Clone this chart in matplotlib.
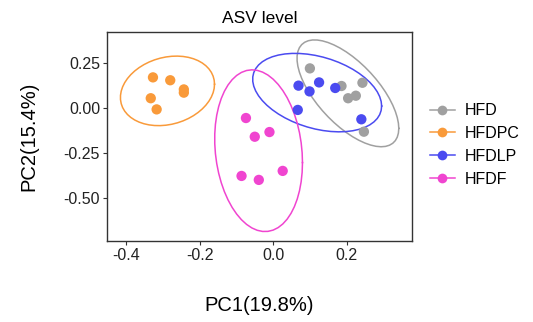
import numpy as np
import matplotlib
matplotlib.use("Agg")
import matplotlib.pyplot as plt
from matplotlib.lines import Line2D

plt.rcParams['font.family'] = ['Liberation Sans', 'DejaVu Sans']

groups = ["HFD", "HFDPC", "HFDLP", "HFDF"]
colors = ["#A0A0A0", "#F99A3A", "#4B4BF0", "#F045D0"]

hfd_x = [0.100, 0.186, 0.243, 0.204, 0.225, 0.247]
hfd_y = [0.222, 0.124, 0.142, 0.056, 0.070, -0.130]
hfdpc_x = [-0.327, -0.280, -0.243, -0.243, -0.333, -0.317]
hfdpc_y = [0.172, 0.156, 0.105, 0.087, 0.056, -0.006]
hfdlp_x = [0.069, 0.099, 0.125, 0.169, 0.067, 0.240]
hfdlp_y = [0.126, 0.094, 0.144, 0.113, -0.009, -0.061]
hfdf_x = [-0.074, -0.050, -0.010, -0.086, -0.039, 0.026]
hfdf_y = [-0.054, -0.158, -0.132, -0.376, -0.398, -0.348]

data = {
    "HFD": (hfd_x, hfd_y),
    "HFDPC": (hfdpc_x, hfdpc_y),
    "HFDLP": (hfdlp_x, hfdlp_y),
    "HFDF": (hfdf_x, hfdf_y),
}


def cov_trob(x, nu=5, maxit=25, tol=0.01):
    # port of MASS::cov.trob, as used by ggplot2 stat_ellipse(type = "t")
    n, p = x.shape
    wt = np.ones(n)
    loc = x.mean(axis=0)
    w = np.sqrt(wt)
    for _ in range(maxit):
        w0 = w
        X = x - loc
        _, d, vt = np.linalg.svd(np.sqrt(w / w.sum())[:, None] * X, full_matrices=False)
        wX = X @ vt.T @ np.diag(1 / d)
        Q = (wX ** 2).sum(axis=1)
        w = wt * (nu + p) / (nu + Q)
        loc = (w[:, None] * x).sum(axis=0) / w.sum()
        if np.all(np.abs(w - w0) < tol):
            break
    X = x - loc
    cov = (np.sqrt(w)[:, None] * X).T @ (np.sqrt(w)[:, None] * X) / wt.sum()
    return loc, cov


def ellipse_path(xs, ys, level=0.95, segments=51):
    pts = np.column_stack([xs, ys])
    center, shape = cov_trob(pts)
    dfn, dfd = 2, len(xs) - 1
    fq = dfd / dfn * ((1 - level) ** (-dfn / dfd) - 1)  # qf for dfn = 2
    radius = np.sqrt(dfn * fq)
    ang = np.linspace(0, 2 * np.pi, segments + 1)
    circle = np.column_stack([np.cos(ang), np.sin(ang)])
    chol = np.linalg.cholesky(shape).T
    return center + radius * circle @ chol


fig = plt.figure(figsize=(5.33, 3.22), dpi=100)
ax = fig.add_axes([0.2008, 0.2525, 0.5716, 0.6491])

for g, c in zip(groups, colors):
    xs, ys = data[g]
    e = ellipse_path(xs, ys)
    ax.plot(e[:, 0], e[:, 1], color=c, lw=1.1)
    ax.scatter(xs, ys, s=55, color=c, edgecolors="none", zorder=3)

ax.set_xlim(-0.452, 0.377)
ax.set_ylim(-0.736, 0.426)
ax.set_xticks([-0.4, -0.2, 0.0, 0.2])
ax.set_xticklabels(["-0.4", "-0.2", "0.0", "0.2"])
ax.set_yticks([0.25, 0.0, -0.25, -0.5])
ax.set_yticklabels(["0.25", "0.00", "-0.25", "-0.50"])
ax.tick_params(labelsize=11.5, length=3, width=0.8, color="#333333", labelcolor="#222222", pad=2)
for sp in ax.spines.values():
    sp.set_color("#333333")
    sp.set_linewidth(1.0)

ax.set_title("ASV level", fontsize=12.5, pad=6)
ax.set_xlabel("PC1(19.8%)", fontsize=14.5, labelpad=24)
ax.set_ylabel("PC2(15.4%)", fontsize=14.5, labelpad=18)

handles = [Line2D([0], [0], color=c, marker="o", markersize=7, lw=1.1, markeredgewidth=0)
           for c in colors]
fig.legend(handles, groups, loc="center left", bbox_to_anchor=(0.794, 0.55),
           frameon=False, fontsize=11.5, handlelength=1.6, handletextpad=0.6,
           labelspacing=0.49, borderaxespad=0)

fig.savefig("out.png", dpi=100)
